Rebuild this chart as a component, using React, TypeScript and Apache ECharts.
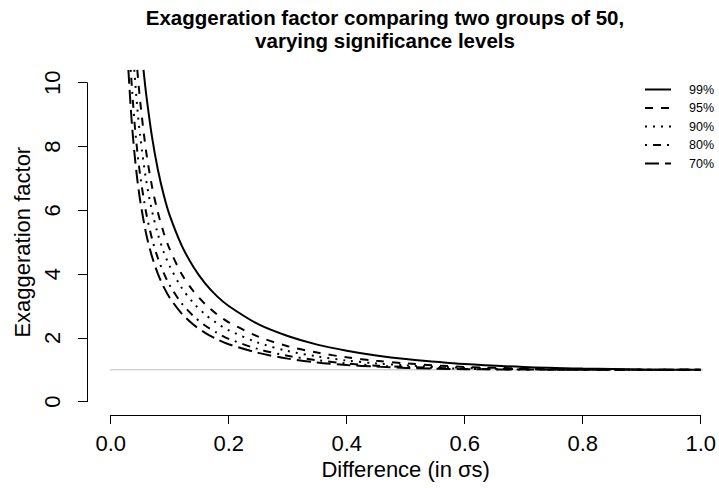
import React, { useEffect, useRef } from "react";
import * as echarts from "echarts";

// Difference (in σs) and exaggeration factor, per significance level
const diffs99 = [0.0556, 0.06, 0.07, 0.08, 0.09, 0.1, 0.12, 0.14, 0.16, 0.18, 0.2, 0.25, 0.3, 0.35, 0.4, 0.45, 0.5, 0.6, 0.7, 0.8, 0.9, 1.0];
const factor99 = [10.4, 9.66, 8.3, 7.27, 6.47, 5.84, 4.91, 4.23, 3.71, 3.31, 3.0, 2.43, 2.06, 1.79, 1.6, 1.45, 1.34, 1.18, 1.09, 1.04, 1.01, 1.0];

const diffs95 = [0.0451, 0.05, 0.06, 0.07, 0.08, 0.09, 0.1, 0.12, 0.14, 0.16, 0.18, 0.2, 0.25, 0.3, 0.35, 0.4, 0.45, 0.5, 0.6, 0.7, 0.8, 0.9, 1.0];
const factor95 = [10.4, 9.41, 7.85, 6.75, 5.93, 5.29, 4.78, 4.01, 3.47, 3.06, 2.74, 2.49, 2.04, 1.74, 1.54, 1.39, 1.28, 1.2, 1.09, 1.04, 1.01, 1.0, 1.0];

const diffs90 = [0.0399, 0.045, 0.05, 0.06, 0.07, 0.08, 0.09, 0.1, 0.12, 0.14, 0.16, 0.18, 0.2, 0.25, 0.3, 0.35, 0.4, 0.45, 0.5, 0.6, 0.7, 0.8, 0.9, 1.0];
const factor90 = [10.4, 9.23, 8.32, 6.95, 5.98, 5.25, 4.69, 4.25, 3.58, 3.1, 2.74, 2.46, 2.24, 1.85, 1.59, 1.42, 1.29, 1.2, 1.14, 1.06, 1.02, 1.01, 1.0, 1.0];

const diffs80 = [0.0339, 0.04, 0.045, 0.05, 0.06, 0.07, 0.08, 0.09, 0.1, 0.12, 0.14, 0.16, 0.18, 0.2, 0.25, 0.3, 0.35, 0.4, 0.45, 0.5, 0.6, 0.7, 0.8, 0.9, 1.0];
const factor80 = [10.4, 8.83, 7.86, 7.09, 5.93, 5.11, 4.5, 4.03, 3.65, 3.09, 2.69, 2.39, 2.16, 1.97, 1.65, 1.44, 1.3, 1.2, 1.13, 1.09, 1.03, 1.01, 1.0, 1.0, 1.0];

const diffs70 = [0.03, 0.035, 0.04, 0.045, 0.05, 0.06, 0.07, 0.08, 0.09, 0.1, 0.12, 0.14, 0.16, 0.18, 0.2, 0.25, 0.3, 0.35, 0.4, 0.45, 0.5, 0.6, 0.7, 0.8, 0.9, 1.0];
const factor70 = [10.4, 8.94, 7.84, 6.98, 6.3, 5.27, 4.55, 4.01, 3.59, 3.26, 2.77, 2.42, 2.16, 1.96, 1.8, 1.53, 1.35, 1.23, 1.15, 1.1, 1.06, 1.02, 1.01, 1.0, 1.0, 1.0];

const levels = ["99%", "95%", "90%", "80%", "70%"];
const referenceX = [-0.04, 1.04];
const referenceY = [1, 1];

const FONT = "'Liberation Sans', Arial, Helvetica, sans-serif";

export default function App() {
  const ref = useRef<HTMLDivElement>(null);
  useEffect(() => {
    const chart = echarts.init(ref.current!, null, { renderer: "svg" });
    const mk = (name: string, xs: number[], ys: number[], type: any) => ({
      name,
      type: "line",
      data: xs.map((x, i) => [x, ys[i]]),
      symbol: "none",
      showSymbol: false,
      clip: false,
      smooth: 0.3,
      lineStyle: { color: "#000", width: 2, type, cap: "butt" },
      itemStyle: { color: "#000" },
      z: 3,
    });
    chart.setOption({
      animation: false,
      backgroundColor: "#fff",
      title: {
        text: "Exaggeration factor comparing two groups of 50,\nvarying significance levels",
        left: 385,
        textAlign: "center",
        top: 6,
        padding: 0,
        textStyle: { fontFamily: FONT, fontWeight: "bold", fontSize: 20.5, lineHeight: 23, color: "#000" },
      },
      legend: {
        data: levels,
        orient: "vertical",
        left: 644,
        top: 83,
        padding: 0,
        itemWidth: 26,
        itemHeight: 14,
        itemGap: 5.5,
        itemStyle: { color: "rgba(0,0,0,0)", borderWidth: 0, opacity: 0 },
        textStyle: { fontFamily: FONT, fontSize: 12.5, color: "#000", padding: [0, 0, 0, 13] },
      },
      grid: { left: 110.7, right: 17, top: 82.7, bottom: 86.3, containLabel: false },
      xAxis: {
        type: "value",
        min: 0,
        max: 1,
        interval: 0.2,
        offset: 13.3,
        splitLine: { show: false },
        axisLine: { show: true, onZero: false, lineStyle: { color: "#000", width: 1 } },
        axisTick: { show: true, length: 9, lineStyle: { color: "#000" } },
        axisLabel: { fontFamily: FONT, fontSize: 22, color: "#000", margin: 17, formatter: (v: number) => v.toFixed(1) },
        name: "Difference (in σs)",
        nameLocation: "middle",
        nameGap: 37,
        nameTextStyle: { fontFamily: FONT, fontSize: 22, color: "#000" },
      },
      yAxis: {
        type: "value",
        min: 0,
        max: 10,
        interval: 2,
        offset: 23.7,
        splitLine: { show: false },
        axisLine: { show: true, onZero: false, lineStyle: { color: "#000", width: 1 } },
        axisTick: { show: true, length: 9, lineStyle: { color: "#000" } },
        axisLabel: { fontFamily: FONT, fontSize: 22, color: "#000", margin: 24, rotate: 90 },
        name: "Exaggeration factor",
        nameLocation: "middle",
        nameGap: 47,
        nameTextStyle: { fontFamily: FONT, fontSize: 22, color: "#000" },
      },
      series: [
        {
          name: "reference",
          type: "line",
          data: referenceX.map((x, i) => [x, referenceY[i]]),
          symbol: "none",
          clip: false,
          silent: true,
          lineStyle: { color: "#bebebe", width: 1 },
          z: 1,
        },
        mk("99%", diffs99, factor99, "solid"),
        mk("95%", diffs95, factor95, [8, 8]),
        mk("90%", diffs90, factor90, [2, 6]),
        mk("80%", diffs80, factor80, [2, 6, 8, 6]),
        mk("70%", diffs70, factor70, [14, 6]),
      ],
    });
    return () => chart.dispose();
  }, []);
  return <div ref={ref} style={{ position: "absolute", left: 0, top: 0, width: 719, height: 488 }} />;
}
